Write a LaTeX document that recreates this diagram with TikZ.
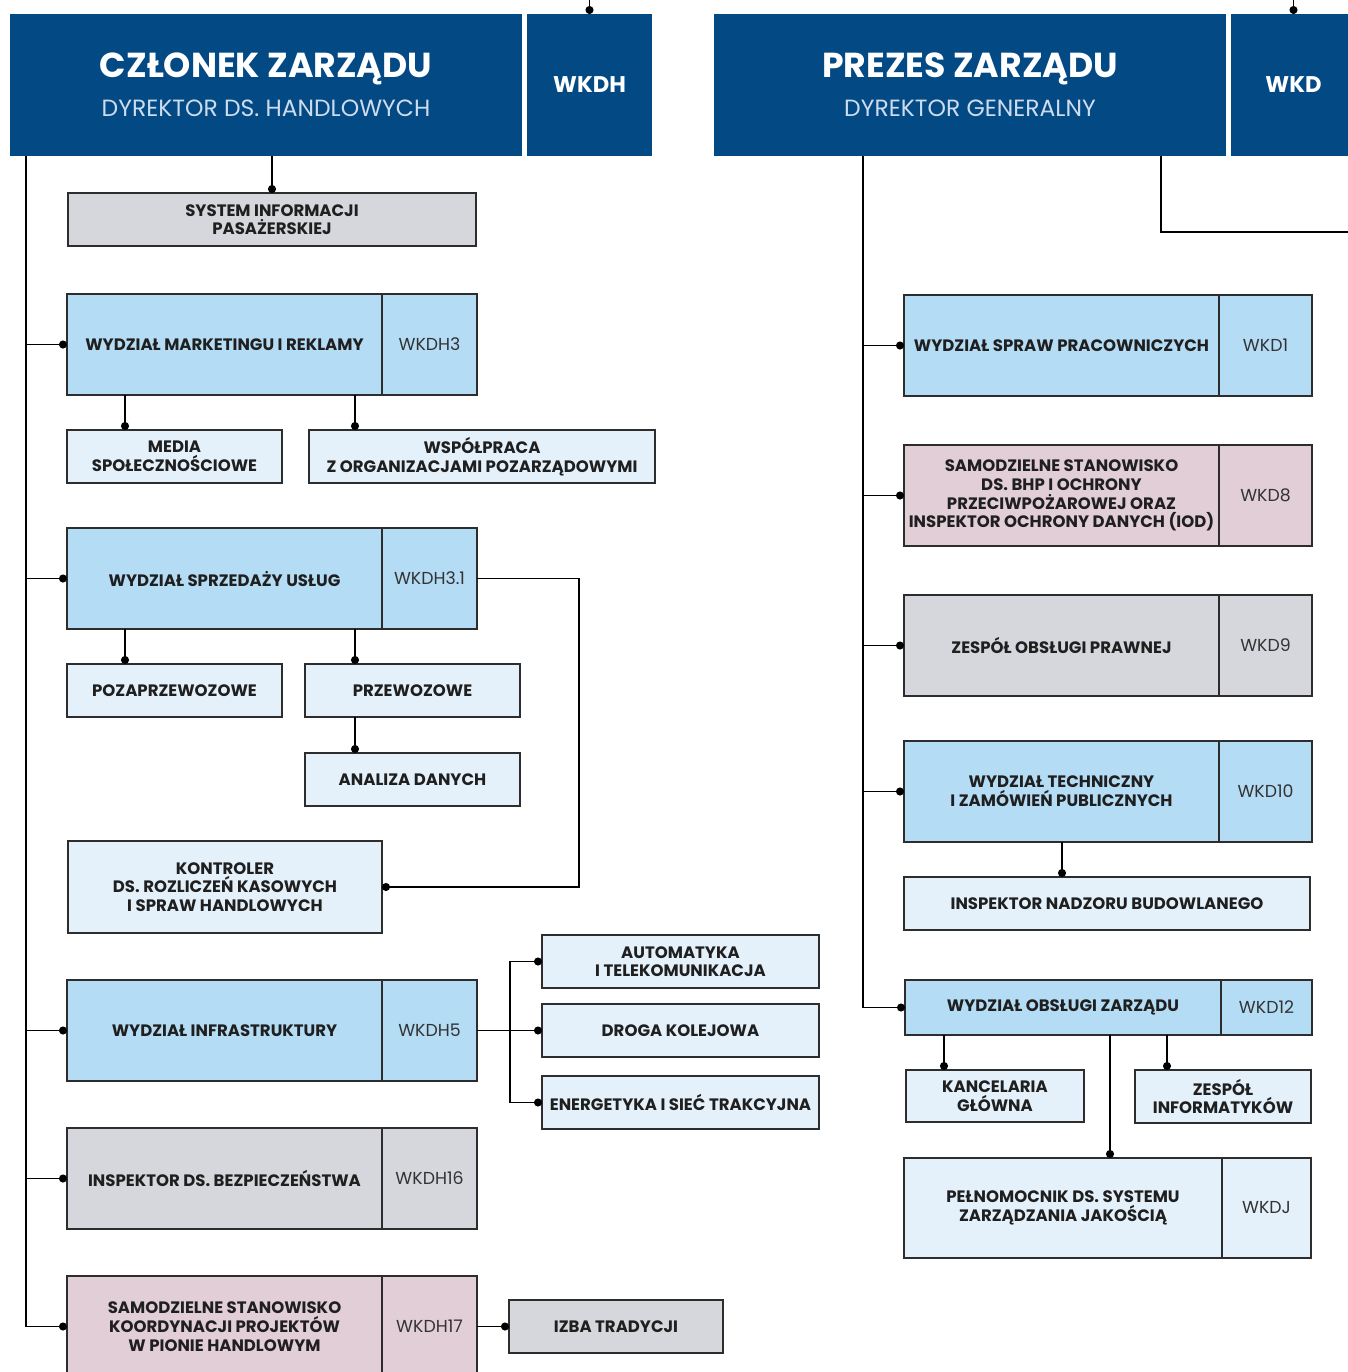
\documentclass[tikz,border=0pt]{standalone}
\usepackage{fontspec}
\setmainfont{Poppins}
\usetikzlibrary{positioning,arrows.meta}

\definecolor{hdrblue}{RGB}{3,74,133}
\definecolor{unitblue}{RGB}{180,220,245}
\definecolor{subblue}{RGB}{228,241,251}
\definecolor{unitgray}{RGB}{214,215,220}
\definecolor{unitpink}{RGB}{226,206,214}
\definecolor{edgegray}{RGB}{45,45,45}
\definecolor{subtitle}{RGB}{205,220,238}

\tikzset{
  boxw/.style={minimum width=#1*0.75pt},
  boxh/.style={minimum height=#1*0.75pt},
  box/.style={draw=edgegray, line width=0.8pt, inner sep=2pt, outer sep=0pt, align=center,
    font=\bfseries\fontsize{12.4}{14}\selectfont, text=black!88},
  codebox/.style={box, font=\fontsize{13}{15}\selectfont, text=black!80},
  hdr/.style={fill=hdrblue, inner sep=0pt, outer sep=0pt, align=center, text=white, anchor=north west},
  hdrcode/.style={fill=hdrblue, inner sep=0pt, outer sep=0pt, text=white, font=\bfseries\fontsize{17}{20}\selectfont},
  blueunit/.style={box, fill=unitblue},
  subunit/.style={box, fill=subblue},
  grayunit/.style={box, fill=unitgray},
  pinkunit/.style={box, fill=unitpink},
  wire/.style={line width=1.1pt, black},
  link/.style={wire, -{Circle[length=6pt]}}
}

\begin{document}
\begin{tikzpicture}[x=0.75pt,y=0.75pt,yscale=-1,xscale=1]
  \useasboundingbox (0,0) rectangle (1348,1372);

  % zarzad - naglowki
  \node[hdr, boxw=512, boxh=142] (czlonek) at (10,14)
    {{\bfseries\fontsize{26}{30}\selectfont CZŁONEK ZARZĄDU}\\[10pt]
     {\color{subtitle}\fontsize{17.6}{20}\selectfont DYREKTOR DS. HANDLOWYCH}};
  \node[hdrcode, boxw=125, boxh=142, right=3.75pt of czlonek] (wkdh) {WKDH};
  \node[hdr, boxw=512, boxh=142] (prezes) at (714,14)
    {{\bfseries\fontsize{26}{30}\selectfont PREZES ZARZĄDU}\\[10pt]
     {\color{subtitle}\fontsize{17.6}{20}\selectfont DYREKTOR GENERALNY}};
  \node[hdrcode, boxw=125, boxh=142, right=3.75pt of prezes] (wkd) {WKD};

  % pion handlowy
  \node[grayunit, anchor=north west, boxw=408, boxh=53] (sip) at (68,193)
    {SYSTEM INFORMACJI\\PASAŻERSKIEJ};

  \node[blueunit, anchor=north west, boxw=315, boxh=101] (marketing) at (67,294)
    {WYDZIAŁ MARKETINGU I REKLAMY};
  \node[codebox, fill=unitblue, boxw=95, boxh=101, right=0pt of marketing] (marketingc) {WKDH3};
  \node[subunit, anchor=north west, boxw=215, boxh=53] (media) at (67,430)
    {MEDIA\\SPOŁECZNOŚCIOWE};
  \node[subunit, anchor=north west, boxw=346, boxh=53] (ngo) at (309,430)
    {WSPÓŁPRACA\\Z ORGANIZACJAMI POZARZĄDOWYMI};

  \node[blueunit, anchor=north west, boxw=315, boxh=101] (sprzedaz) at (67,528)
    {WYDZIAŁ SPRZEDAŻY USŁUG};
  \node[codebox, fill=unitblue, boxw=95, boxh=101, right=0pt of sprzedaz] (sprzedazc) {WKDH3.1};
  \node[subunit, anchor=north west, boxw=215, boxh=53] (pozaprz) at (67,664)
    {POZAPRZEWOZOWE};
  \node[subunit, anchor=north west, boxw=215, boxh=53] (przew) at (305,664)
    {PRZEWOZOWE};
  \node[subunit, anchor=north west, boxw=215, boxh=53] (analiza) at (305,753)
    {ANALIZA DANYCH};
  \node[subunit, anchor=north west, boxw=314, boxh=92] (kontroler) at (68,841)
    {KONTROLER\\DS. ROZLICZEŃ KASOWYCH\\I SPRAW HANDLOWYCH};

  \node[blueunit, anchor=north west, boxw=315, boxh=101] (infra) at (67,980)
    {WYDZIAŁ INFRASTRUKTURY};
  \node[codebox, fill=unitblue, boxw=95, boxh=101, right=0pt of infra] (infrac) {WKDH5};
  \node[subunit, anchor=north west, boxw=277, boxh=53] (automat) at (542,935)
    {AUTOMATYKA\\I TELEKOMUNIKACJA};
  \node[subunit, anchor=north west, boxw=277, boxh=53] (droga) at (542,1004)
    {DROGA KOLEJOWA};
  \node[subunit, anchor=north west, boxw=277, boxh=53] (energ) at (542,1076)
    {ENERGETYKA I SIEĆ TRAKCYJNA};

  \node[grayunit, anchor=north west, boxw=315, boxh=101] (bezp) at (67,1128)
    {INSPEKTOR DS. BEZPIECZEŃSTWA};
  \node[codebox, fill=unitgray, boxw=95, boxh=101, right=0pt of bezp] (bezpc) {WKDH16};

  \node[pinkunit, anchor=north west, boxw=315, boxh=101] (koord) at (67,1276)
    {SAMODZIELNE STANOWISKO\\KOORDYNACJI PROJEKTÓW\\W PIONIE HANDLOWYM};
  \node[codebox, fill=unitpink, boxw=95, boxh=101, right=0pt of koord] (koordc) {WKDH17};
  \node[grayunit, anchor=north west, boxw=214, boxh=53] (izba) at (509,1300)
    {IZBA TRADYCJI};

  % pion prezesa
  \node[blueunit, anchor=north west, boxw=315, boxh=101] (kadry) at (904,295)
    {WYDZIAŁ SPRAW PRACOWNICZYCH};
  \node[codebox, fill=unitblue, boxw=93, boxh=101, right=0pt of kadry] (kadryc) {WKD1};
  \node[pinkunit, anchor=north west, boxw=315, boxh=101] (bhp) at (904,445)
    {SAMODZIELNE STANOWISKO\\DS. BHP I OCHRONY\\PRZECIWPOŻAROWEJ ORAZ\\INSPEKTOR OCHRONY DANYCH (IOD)};
  \node[codebox, fill=unitpink, boxw=93, boxh=101, right=0pt of bhp] (bhpc) {WKD8};
  \node[grayunit, anchor=north west, boxw=315, boxh=101] (prawny) at (904,595)
    {ZESPÓŁ OBSŁUGI PRAWNEJ};
  \node[codebox, fill=unitgray, boxw=93, boxh=101, right=0pt of prawny] (prawnyc) {WKD9};
  \node[blueunit, anchor=north west, boxw=315, boxh=101] (tech) at (904,741)
    {WYDZIAŁ TECHNICZNY\\I ZAMÓWIEŃ PUBLICZNYCH};
  \node[codebox, fill=unitblue, boxw=93, boxh=101, right=0pt of tech] (techc) {WKD10};
  \node[subunit, anchor=north west, boxw=406, boxh=53] (nadzor) at (904,877)
    {INSPEKTOR NADZORU BUDOWLANEGO};

  \node[blueunit, anchor=north west, boxw=316, boxh=55] (obsluga) at (905,980)
    {WYDZIAŁ OBSŁUGI ZARZĄDU};
  \node[codebox, fill=unitblue, boxw=91, boxh=55, right=0pt of obsluga] (obslugac) {WKD12};
  \node[subunit, anchor=north west, boxw=178, boxh=52] (kancelaria) at (906,1070)
    {KANCELARIA\\GŁÓWNA};
  \node[subunit, anchor=north west, boxw=176, boxh=53] (it) at (1135,1070)
    {ZESPÓŁ\\INFORMATYKÓW};
  \node[subunit, anchor=north west, boxw=318, boxh=100] (jakosc) at (904,1158)
    {PEŁNOMOCNIK DS. SYSTEMU\\ZARZĄDZANIA JAKOŚCIĄ};
  \node[codebox, fill=subblue, boxw=89, boxh=100, right=0pt of jakosc] (jakoscc) {WKDJ};

  % polaczenia
  \draw[link] (wkdh.north |- 0,0) -- (wkdh.north);
  \draw[link] (wkd.north |- 0,0) -- (wkd.north);

  \coordinate (trunkL) at (czlonek.south -| 26,0);
  \draw[wire] (trunkL) -- (trunkL |- koord.west);
  \draw[link] (czlonek.south -| sip.north) -- (sip.north);
  \draw[link] (trunkL |- marketing.west) -- (marketing.west);
  \draw[link] (trunkL |- sprzedaz.west) -- (sprzedaz.west);
  \draw[link] (trunkL |- infra.west) -- (infra.west);
  \draw[link] (trunkL |- bezp.west) -- (bezp.west);
  \draw[link] (trunkL |- koord.west) -- (koord.west);

  \draw[link] (marketing.south -| 125,0) -- (media.north -| 125,0);
  \draw[link] (marketing.south -| 355,0) -- (ngo.north -| 355,0);
  \draw[link] (sprzedaz.south -| 125,0) -- (pozaprz.north -| 125,0);
  \draw[link] (sprzedaz.south -| 355,0) -- (przew.north -| 355,0);
  \draw[link] (przew.south -| 355,0) -- (analiza.north -| 355,0);
  \draw[link] (sprzedazc.east) -- ++(102,0) |- (kontroler.east);

  \draw[link] (infrac.east) -- (droga.west);
  \draw[link] (infrac.east) -- ++(33,0) |- (automat.west);
  \draw[link] (infrac.east) -- ++(33,0) |- (energ.west);
  \draw[link] (koordc.east) -- (izba.west);

  \coordinate (trunkR) at (prezes.south -| 863,0);
  \coordinate (exitR) at (1348,232);
  \draw[wire] (trunkR) -- (trunkR |- obsluga.west);
  \draw[wire] (prezes.south -| 1161,0) |- (exitR);
  \draw[link] (trunkR |- kadry.west) -- (kadry.west);
  \draw[link] (trunkR |- bhp.west) -- (bhp.west);
  \draw[link] (trunkR |- prawny.west) -- (prawny.west);
  \draw[link] (trunkR |- tech.west) -- (tech.west);
  \draw[link] (trunkR |- obsluga.west) -- (obsluga.west);
  \draw[link] (tech.south -| 1062,0) -- (nadzor.north -| 1062,0);
  \draw[link] (obsluga.south -| 944,0) -- (kancelaria.north -| 944,0);
  \draw[link] (obsluga.south -| 1167,0) -- (it.north -| 1167,0);
  \draw[link] (obsluga.south -| 1110,0) -- (jakosc.north -| 1110,0);
\end{tikzpicture}
\end{document}
